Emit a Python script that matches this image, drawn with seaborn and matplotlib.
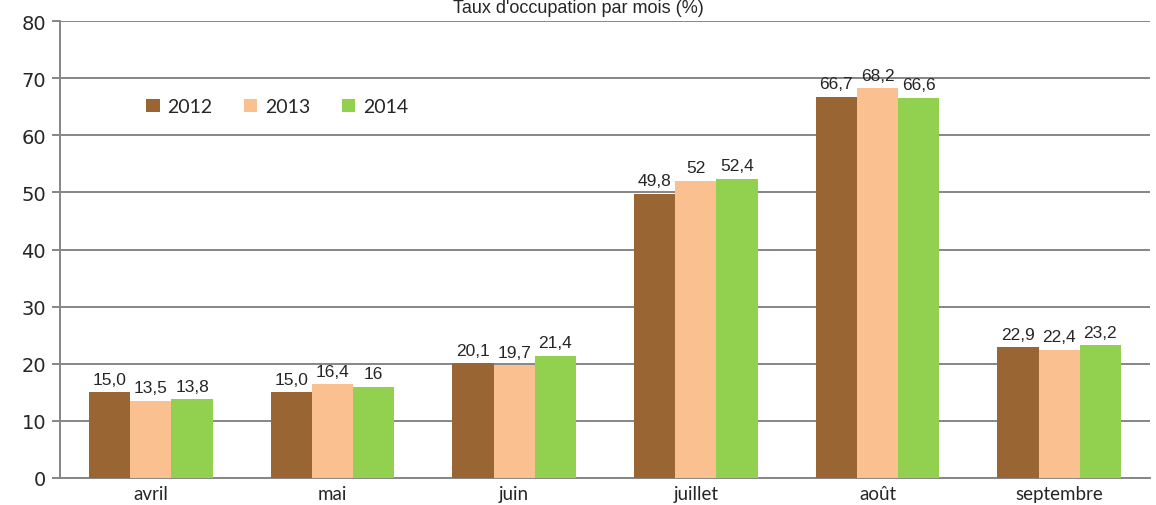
import numpy as np
import pandas as pd
import matplotlib.pyplot as plt
import seaborn as sns
from matplotlib.patches import Patch

months = ["avril", "mai", "juin", "juillet", "août", "septembre"]
years = ["2012", "2013", "2014"]
v2012 = [15.0, 15.0, 20.1, 49.8, 66.7, 22.9]
v2013 = [13.5, 16.4, 19.7, 52.0, 68.2, 22.4]
v2014 = [13.8, 16.0, 21.4, 52.4, 66.6, 23.2]
lab2012 = ["15,0", "15,0", "20,1", "49,8", "66,7", "22,9"]
lab2013 = ["13,5", "16,4", "19,7", "52", "68,2", "22,4"]
lab2014 = ["13,8", "16", "21,4", "52,4", "66,6", "23,2"]
colors = ["#996633", "#FAC090", "#92D050"]

df = pd.DataFrame({
    "mois": months * 3,
    "annee": [y for y in years for _ in months],
    "taux": v2012 + v2013 + v2014,
})

sns.set_style("white")
fig = plt.figure(figsize=(11.56, 5.06), dpi=100)
ax = fig.add_axes([60 / 1156, 1 - 479 / 506, 1090 / 1156, 457 / 506])

sns.barplot(data=df, x="mois", y="taux", hue="annee", palette=colors,
            width=0.68, gap=0, saturation=1, ax=ax, legend=False,
            linewidth=0, edgecolor="none", zorder=3)

grid_c = "#868686"
ax.set_ylim(0, 80)
ax.set_xlim(-0.5, 5.5)
ax.set_yticks(np.arange(0, 81, 10))
ax.yaxis.grid(True, color=grid_c, lw=1.4, zorder=0)
ax.set_axisbelow(True)
for s in ["top", "right"]:
    ax.spines[s].set_visible(False)
for s in ["left", "bottom"]:
    ax.spines[s].set_color(grid_c)
    ax.spines[s].set_linewidth(1.4)
ax.set_xlabel("")
ax.set_ylabel("")

ax.set_xticks(np.arange(-0.5, 6, 1), minor=True)
ax.tick_params(axis="x", which="major", length=0, pad=5)
ax.tick_params(axis="x", which="minor", length=6, color=grid_c, width=1.4, direction="out")
ax.tick_params(axis="y", length=6, color=grid_c, width=1.4, direction="out", left=True, pad=4)
for t in ax.get_xticklabels():
    t.set_fontfamily("Lato")
    t.set_fontsize(13.5)
for t in ax.get_yticklabels():
    t.set_fontfamily("Liberation Sans Narrow")
    t.set_fontsize(14)

for cont, labs in zip(ax.containers, [lab2012, lab2013, lab2014]):
    ax.bar_label(cont, labels=labs, padding=4, fontsize=12.5,
                 fontfamily="Liberation Sans")

handles = [Patch(facecolor=c, edgecolor="none") for c in colors]
ax.legend(handles, years, loc="center left", bbox_to_anchor=(0.063, 0.812),
          ncol=3, frameon=False, handlelength=0.7, handleheight=0.7,
          columnspacing=1.6, handletextpad=0.4,
          prop={"family": "Lato", "size": 14})

fig.text(0.5, 1.0, "Taux d'occupation par mois (%)", ha="center", va="top",
         fontsize=13, fontfamily="Liberation Sans")

fig.savefig("out.png", dpi=100)
